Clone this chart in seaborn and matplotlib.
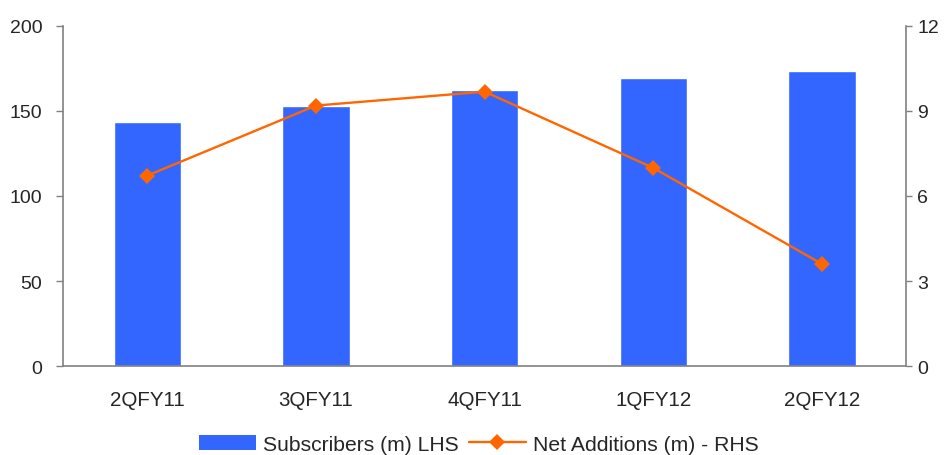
import matplotlib
matplotlib.use("Agg")
import matplotlib.pyplot as plt
import seaborn as sns
import pandas as pd
import numpy as np
from matplotlib.patches import Patch
from matplotlib.lines import Line2D

quarters = ["2QFY11", "3QFY11", "4QFY11", "1QFY12", "2QFY12"]
subscribers = [143.5, 152.9, 162.4, 169.4, 173.5]
net_additions = [6.72, 9.19, 9.68, 6.99, 3.60]
left_ticks = [0, 50, 100, 150, 200]
right_ticks = [0, 3, 6, 9, 12]

sns.set_style("white")
plt.rcParams["font.family"] = ["Liberation Sans", "DejaVu Sans"]

BLUE = "#3366FF"
ORANGE = "#FF6600"
GREY = "#808080"

df = pd.DataFrame({"quarter": quarters, "subs": subscribers, "net": net_additions})

fig = plt.figure(figsize=(9.48, 4.56), dpi=100)
ax = fig.add_axes([0.0665, 0.195, 0.8895, 0.746])

sns.barplot(data=df, x="quarter", y="subs", color=BLUE, width=0.4,
            saturation=1, ax=ax)
ax.set_ylim(0, 200)
ax.set_xlim(-0.5, len(quarters) - 0.5)
ax.set_yticks(left_ticks)
ax.set_xlabel("")
ax.set_ylabel("")

ax2 = ax.twinx()
sns.lineplot(x=np.arange(len(quarters)), y=net_additions, ax=ax2, color=ORANGE,
             marker="D", markersize=8, markeredgewidth=0, linewidth=1.7)
ax2.set_ylim(0, 12)
ax2.set_yticks(right_ticks)
ax2.set_ylabel("")

# category boundaries carry the x tick marks
ax.set_xticks(np.arange(len(quarters)))
ax.set_xticklabels(quarters)
ax.tick_params(axis="x", length=0, pad=17, labelsize=14.8)
ax.set_xticks(np.arange(len(quarters) + 1) - 0.5, minor=True)
ax.tick_params(axis="x", which="minor", length=5, width=1, color=GREY, direction="out")

ax.tick_params(axis="y", length=5, width=1, color=GREY, direction="out", labelsize=14, pad=10, left=True)
ax2.tick_params(axis="y", length=4, width=1, color=GREY, direction="out", labelsize=14, pad=4, right=True)

for a in (ax, ax2):
    a.spines["top"].set_visible(False)
    for s in ("left", "right", "bottom"):
        a.spines[s].set_color(GREY)
        a.spines[s].set_linewidth(1.2)
ax.spines["right"].set_visible(False)
ax2.spines["left"].set_visible(False)
ax2.spines["bottom"].set_visible(False)

handles = [
    Patch(facecolor=BLUE, edgecolor="none"),
    Line2D([0], [0], color=ORANGE, marker="D", markersize=8, markeredgewidth=0, linewidth=1.7),
]
fig.legend(handles, ["Subscribers (m) LHS", "Net Additions (m) - RHS"],
           loc="center", bbox_to_anchor=(0.505, 0.024), ncol=2, frameon=False,
           fontsize=15.2, handlelength=2.7, handletextpad=0.34, columnspacing=0.48,
           borderpad=0)

fig.savefig("out.png", dpi=100)
